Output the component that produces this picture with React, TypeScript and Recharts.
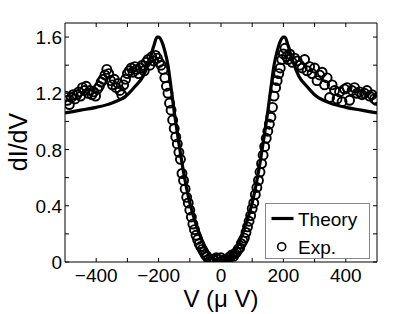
import React from 'react';
import { ComposedChart, Line, Scatter, XAxis, YAxis } from 'recharts';

const FONT = '"Liberation Sans", Arial, Helvetica, sans-serif';

const xTicks = [-400, -300, -200, -100, 0, 100, 200, 300, 400];
const yTicks = [0, 0.2, 0.4, 0.6, 0.8, 1.0, 1.2, 1.4, 1.6];

const theoryV = [-500, -450, -400, -350, -300, -275, -250, -230, -215, -205, -200, -190, -180, -170, -160, -150, -140, -120, -100, -80, -60, -40, -20, 0, 20, 40, 60, 80, 100, 120, 140, 150, 160, 170, 180, 190, 200, 205, 215, 230, 250, 275, 300, 350, 400, 450, 500];
const theoryG = [1.06, 1.08, 1.10, 1.13, 1.19, 1.25, 1.32, 1.43, 1.54, 1.60, 1.60, 1.57, 1.50, 1.40, 1.24, 1.07, 0.92, 0.64, 0.42, 0.27, 0.15, 0.06, 0.015, 0, 0.015, 0.06, 0.15, 0.27, 0.42, 0.64, 0.92, 1.07, 1.24, 1.40, 1.50, 1.57, 1.60, 1.60, 1.54, 1.43, 1.32, 1.25, 1.19, 1.13, 1.10, 1.08, 1.06];

const expV = [-498, -492, -486, -480, -474, -468, -462, -456, -450, -444, -438, -432, -426, -420, -414, -408, -402, -396, -390, -384, -378, -372, -366, -360, -354, -348, -342, -336, -330, -324, -318, -312, -306, -300, -294, -288, -282, -276, -270, -264, -258, -252, -246, -240, -234, -228, -222, -216, -210, -204, -198, -192, -186, -180, -175, -170, -165, -160, -155, -150, -145, -140, -135, -130, -125, -120, -115, -110, -105, -100, -95, -90, -85, -80, -75, -70, -65, -60, -55, -50, -45, -40, -35, -30, -25, -20, -15, -10, -5, 0, 5, 10, 15, 20, 25, 30, 35, 40, 45, 50, 55, 60, 65, 70, 75, 80, 85, 90, 95, 100, 105, 110, 115, 120, 125, 130, 135, 140, 145, 150, 155, 160, 165, 170, 175, 180, 185, 190, 195, 200, 205, 210, 215, 220, 228, 236, 244, 252, 260, 268, 276, 284, 292, 300, 308, 316, 324, 332, 340, 348, 356, 364, 372, 380, 388, 396, 404, 412, 420, 428, 436, 444, 452, 460, 468, 476, 484, 492, 498];
const expG = [1.18, 1.15, 1.12, 1.17, 1.19, 1.16, 1.19, 1.21, 1.18, 1.24, 1.22, 1.25, 1.20, 1.22, 1.19, 1.21, 1.18, 1.23, 1.25, 1.28, 1.30, 1.33, 1.37, 1.34, 1.29, 1.26, 1.30, 1.24, 1.27, 1.22, 1.19, 1.26, 1.30, 1.34, 1.36, 1.38, 1.35, 1.39, 1.37, 1.34, 1.38, 1.40, 1.36, 1.42, 1.44, 1.40, 1.46, 1.43, 1.47, 1.45, 1.42, 1.40, 1.37, 1.31, 1.25, 1.20, 1.13, 1.08, 1.01, 0.95, 0.89, 0.84, 0.78, 0.73, 0.63, 0.58, 0.52, 0.46, 0.42, 0.37, 0.32, 0.27, 0.23, 0.19, 0.16, 0.13, 0.11, 0.09, 0.07, 0.05, 0.04, 0.02, 0.01, 0.00, 0.02, 0.01, 0.03, 0.02, 0.00, 0.03, 0.01, 0.00, 0.02, 0.01, 0.03, 0.04, 0.05, 0.04, 0.06, 0.07, 0.09, 0.10, 0.13, 0.15, 0.17, 0.21, 0.25, 0.29, 0.33, 0.38, 0.42, 0.48, 0.53, 0.58, 0.64, 0.70, 0.76, 0.82, 0.88, 0.93, 0.98, 1.03, 1.10, 1.18, 1.24, 1.29, 1.34, 1.38, 1.44, 1.48, 1.52, 1.46, 1.44, 1.48, 1.42, 1.45, 1.43, 1.40, 1.38, 1.44, 1.36, 1.39, 1.34, 1.38, 1.29, 1.33, 1.35, 1.26, 1.31, 1.17, 1.26, 1.22, 1.16, 1.21, 1.14, 1.23, 1.24, 1.15, 1.22, 1.24, 1.20, 1.21, 1.19, 1.20, 1.22, 1.18, 1.19, 1.16, 1.15];

const theoryData = theoryV.map((v, i) => ({ v, g: theoryG[i] }));
const expData = expV.map((v, i) => ({ v, g: expG[i] }));

const fmtX = (v: number) => (v < 0 ? '\u2212' + Math.abs(v) : String(v));
const fmtY = (v: number) => (v === 0 ? '0' : v.toFixed(1));

const TICK = 4;

const BottomTick = (p: any) => {
  const { x, y, payload } = p;
  const v = payload.value;
  const show = v % 200 === 0;
  return (
    <g>
      <line x1={x} y1={y} x2={x} y2={y - TICK} stroke="#000" strokeWidth={1} />
      {show && (
        <text x={x} y={y + 20} textAnchor="middle" fontSize={19} fill="#000" fontFamily={FONT}>
          {fmtX(v)}
        </text>
      )}
    </g>
  );
};

const TopTick = (p: any) => {
  const { x, y } = p;
  return <line x1={x} y1={y} x2={x} y2={y + TICK} stroke="#000" strokeWidth={1} />;
};

const LeftTick = (p: any) => {
  const { x, y, payload } = p;
  const v = payload.value;
  const show = Math.round(v * 10) % 4 === 0;
  return (
    <g>
      <line x1={x} y1={y} x2={x + TICK} y2={y} stroke="#000" strokeWidth={1} />
      {show && (
        <text x={x - 3} y={y + 7} textAnchor="end" fontSize={19} fill="#000" fontFamily={FONT}>
          {fmtY(v)}
        </text>
      )}
    </g>
  );
};

const RightTick = (p: any) => {
  const { x, y } = p;
  return <line x1={x} y1={y} x2={x - TICK} y2={y} stroke="#000" strokeWidth={1} />;
};

const Ring = (p: any) => (
  <circle cx={p.cx} cy={p.cy} r={4.5} fill="none" stroke="#000" strokeWidth={1.9} />
);

const Nothing = () => <g />;

export default function App() {
  return (
    <div style={{ position: 'absolute', left: 0, top: 0, width: 415, height: 314, background: '#fff' }}>
      <ComposedChart width={415} height={314} margin={{ top: 22, right: 37, bottom: 0, left: 0 }}>
        <XAxis
          dataKey="v"
          type="number"
          domain={[-500, 500]}
          allowDataOverflow
          ticks={xTicks}
          tick={<BottomTick />}
          tickLine={false}
          tickSize={0}
          tickMargin={0}
          height={52}
          axisLine={{ stroke: '#000', strokeWidth: 1 }}
          interval={0}
        />
        <XAxis
          xAxisId="top"
          orientation="top"
          dataKey="v"
          type="number"
          domain={[-500, 500]}
          allowDataOverflow
          ticks={xTicks}
          tick={<TopTick />}
          tickLine={false}
          tickSize={0}
          tickMargin={0}
          height={1}
          axisLine={{ stroke: '#000', strokeWidth: 1 }}
          interval={0}
        />
        <YAxis
          dataKey="g"
          type="number"
          domain={[0, 1.7]}
          allowDataOverflow
          ticks={yTicks}
          tick={<LeftTick />}
          tickLine={false}
          tickSize={0}
          tickMargin={0}
          width={65}
          axisLine={{ stroke: '#000', strokeWidth: 1 }}
          interval={0}
        />
        <YAxis
          yAxisId="right"
          orientation="right"
          dataKey="g"
          type="number"
          domain={[0, 1.7]}
          allowDataOverflow
          ticks={yTicks}
          tick={<RightTick />}
          tickLine={false}
          tickSize={0}
          tickMargin={0}
          width={1}
          axisLine={{ stroke: '#000', strokeWidth: 1 }}
          interval={0}
        />
        <Line
          data={theoryData}
          dataKey="g"
          type="monotone"
          stroke="#000"
          strokeWidth={3.2}
          dot={false}
          isAnimationActive={false}
        />
        <Scatter data={expData} dataKey="g" shape={<Ring />} isAnimationActive={false} />
        <Scatter
          data={theoryData}
          dataKey="g"
          xAxisId="top"
          yAxisId="right"
          shape={<Nothing />}
          isAnimationActive={false}
        />
      </ComposedChart>
      <svg
        width={415}
        height={314}
        style={{ position: 'absolute', left: 0, top: 0, pointerEvents: 'none' }}
      >
        <text x={27} y={142} transform="rotate(-90 27 142)" textAnchor="middle" fontSize={25} fill="#000" fontFamily={FONT}>
          dI/dV
        </text>
        <text x={221} y={307} textAnchor="middle" fontSize={24} fill="#000" fontFamily={FONT}>
          V (μ V)
        </text>
        <rect x={265.5} y={203.5} width={104} height={55} fill="#fff" stroke="#888" strokeWidth={1} />
        <line x1={271.5} y1={218.5} x2={293.5} y2={218.5} stroke="#000" strokeWidth={3.2} />
        <text x={298} y={225.5} fontSize={19} fill="#000" fontFamily={FONT}>
          Theory
        </text>
        <circle cx={281.7} cy={246.7} r={4} fill="none" stroke="#000" strokeWidth={1.6} />
        <text x={298} y={253.5} fontSize={19} fill="#000" fontFamily={FONT}>
          Exp.
        </text>
      </svg>
    </div>
  );
}
